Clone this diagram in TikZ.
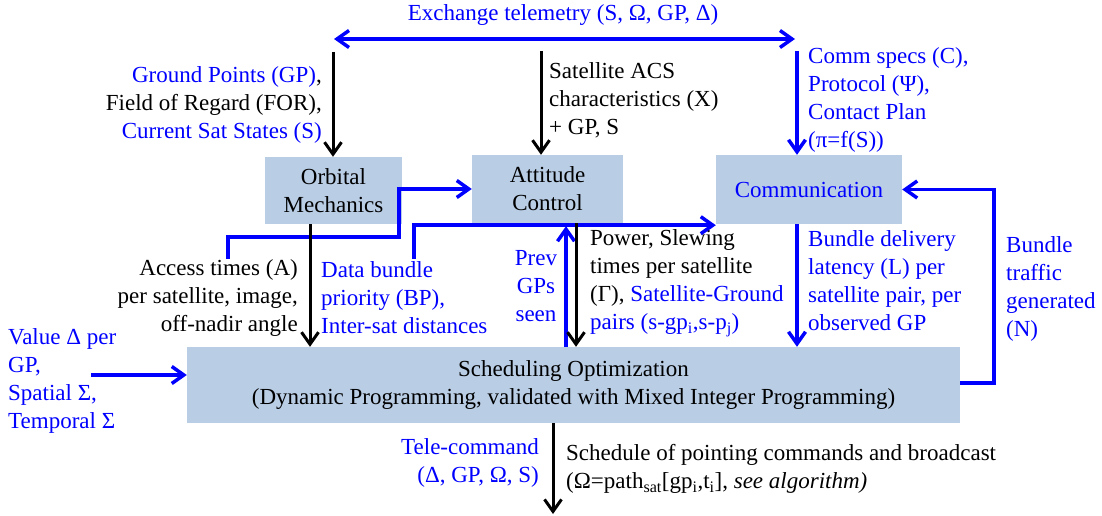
\documentclass[tikz,border=0pt]{standalone}
\usepackage{fontspec}
\setmainfont{Liberation Serif}
\usetikzlibrary{arrows.meta}
\definecolor{boxfill}{RGB}{185,205,229}

\begin{document}
\begin{tikzpicture}[x=1pt,y=-1pt,
    >={Straight Barb[length=12pt,width=17pt]},
    font=\fontsize{23}{28}\selectfont,
    blk/.style={line width=3pt,->},
    blu/.style={blue,line width=3.5pt}]

        \useasboundingbox (0,0) rectangle (1102,516);

        \begin{scope}[every node/.style={fill=boxfill, inner sep=0pt, align=center}]
          \node[minimum width=137pt, minimum height=67pt] (orb)  at (333.5,190.5) {Orbital\\Mechanics};
          \node[minimum width=151pt, minimum height=68pt] (att)  at (547.5,189)   {Attitude\\Control};
          \node[minimum width=186pt, minimum height=69pt, text=blue] (comm) at (809,189.5) {Communication};
          \node[minimum width=773pt, minimum height=76pt] (sched) at (573.5,385)
            {Scheduling Optimization\\(Dynamic Programming, validated with Mixed Integer Programming)};
        \end{scope}

        \begin{scope}[every node/.style={inner sep=0pt}]
          \node[text=blue] (tel) at (563,15) {Exchange telemetry (S, Ω, GP, Δ)};
          \node[anchor=east, align=right] (gpLab) at (322,105)
            {\textcolor{blue}{Ground Points (GP)},\\Field of Regard (FOR),\\\textcolor{blue}{Current Sat States (S)}};
          \node[anchor=west, align=left] (acsLab) at (549,100) {Satellite ACS\\characteristics (X)\\+ GP, S};
          \node[anchor=west, align=left, text=blue] (commLab) at (808,100)
            {Comm specs (C),\\Protocol (Ψ),\\Contact Plan\\(π=f(S))};
          \node[anchor=east, align=right] (accLab) at (298,298)
            {Access times (A)\\per satellite, image,\\off-nadir angle};
          \node[anchor=west, align=left, text=blue] (bpLab) at (321,298)
            {Data bundle\\priority (BP),\\Inter-sat distances};
          \node[align=center, text=blue] (prevLab) at (536,286) {Prev\\GPs\\seen};
          \node[anchor=west, align=left] (powLab) at (590,283)
            {Power, Slewing\\times per satellite\\(Γ), \textcolor{blue}{Satellite-Ground}\\\textcolor{blue}{pairs (s-gp\textsubscript{i},s-p\textsubscript{j})}};
          \node[anchor=west, align=left, text=blue] (latLab) at (808,281)
            {Bundle delivery\\latency (L) per\\satellite pair, per\\observed GP};
          \node[anchor=west, align=left, text=blue] (trafLab) at (1006,289) {Bundle\\traffic\\generated\\(N)};
          \node[anchor=west, align=left, text=blue] (valLab) at (8,381) {Value Δ per\\GP,\\Spatial Σ,\\Temporal Σ};
          \node[anchor=east, align=right, text=blue] (tcLab) at (539,463) {Tele-command\\(Δ, GP, Ω, S)};
          \node[anchor=west, align=left] (outLab) at (566,469)
            {Schedule of pointing commands and broadcast\\(Ω=path\textsubscript{sat}[gp\textsubscript{i},t\textsubscript{i}], \textit{see algorithm)}};
        \end{scope}

        \coordinate (telL)   at (334,39);
        \coordinate (telR)   at (795,39);
        \coordinate (orbIn)  at (333,52);
        \coordinate (attIn)  at (541,51);
        \coordinate (commIn) at (797,51);
        \coordinate (accTop) at (228,259);
        \coordinate (bpTop)  at (414,259);
        \coordinate (valIn)  at (91,375);
        \coordinate (out)    at (553,514);

        \draw[blu,<->] (telL) -- (telR);
        \draw[blk] (orbIn) -- (orbIn |- orb.north);
        \draw[blk] (attIn) -- (attIn |- att.north);
        \draw[blu,->] (commIn) -- (commIn |- comm.north);

        \draw[blu,->] (accTop) -- ++(0,-22) -- ++(171,0) |- (att.west);
        \draw[blu,->] (bpTop) |- ([yshift=-1pt]comm.south west);

        \draw[blk] ([xshift=-23.5pt]orb.south) -- ([xshift=-23.5pt]orb.south |- sched.north);
        \draw[blu,->] ([xshift=18.5pt]att.south |- sched.north) -- ([xshift=18.5pt,yshift=-3pt]att.south);
        \draw[blk] ([xshift=28.5pt]att.south) -- ([xshift=28.5pt]att.south |- sched.north);
        \draw[blu,->] ([xshift=-12pt]comm.south) -- ([xshift=-12pt]comm.south |- sched.north);

        \draw[blu,->] ([yshift=2pt]sched.east) -- ++(34,0) |- (comm.east);
        \draw[blu,->] (valIn) -- (valIn -| sched.west);
        \draw[blk] (out |- sched.south) -- (out);

      \end{tikzpicture}
\end{document}
